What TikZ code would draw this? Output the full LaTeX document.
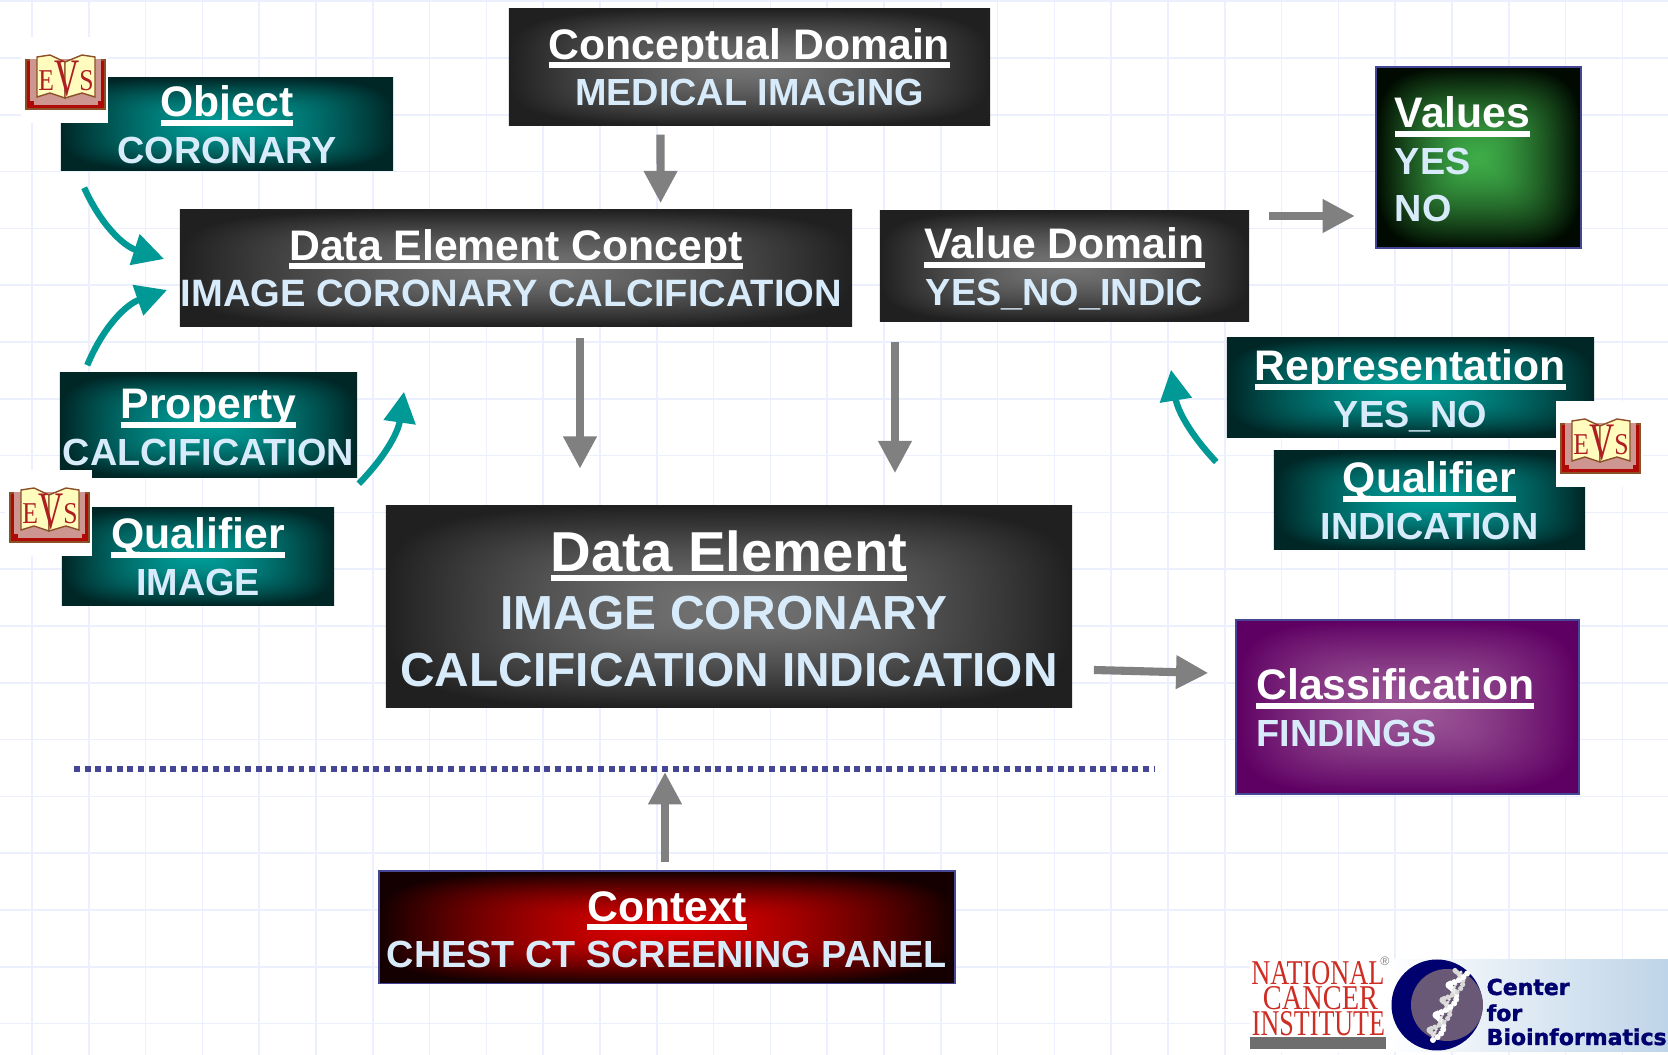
\documentclass[tikz,border=0pt]{standalone}
\usepackage{fontspec}
\setmainfont{Liberation Sans}
\newfontfamily\serifface{Liberation Serif}
\newfontfamily\heavyface{DejaVu Sans}[BoldFeatures={FakeBold=1.6}]
\usetikzlibrary{positioning, arrows.meta, calc}

% name, glow colour (r g b), edge minus glow (r g b)
\newcommand{\declareglow}[7]{%
  \pgfdeclarefunctionalshading{#1}{\pgfpoint{-50bp}{-50bp}}{\pgfpoint{50bp}{50bp}}{}{%
    abs 25 div dup mul dup mul exch abs 25 div dup mul dup mul add sqrt sqrt
    dup 1 gt {pop 1} if dup sqrt mul
    dup #5 mul #2 add exch dup #6 mul #3 add exch #7 mul #4 add}}
\declareglow{glowteal}{0}{0.61}{0.59}{0}{-0.46}{-0.44}
\declareglow{glowgray}{0.45}{0.45}{0.45}{-0.325}{-0.325}{-0.325}
\declareglow{glowgreen}{0.24}{0.67}{0.28}{-0.24}{-0.63}{-0.28}
\declareglow{glowred}{0.87}{0}{0}{-0.79}{0}{0}
\declareglow{glowpurple}{0.61}{0.34}{0.59}{-0.24}{-0.34}{-0.20}

\definecolor{subblue}{RGB}{215,235,250}
\definecolor{gridblue}{RGB}{236,239,253}
\definecolor{edgeblue}{RGB}{70,70,150}
\definecolor{tealtip}{RGB}{0,153,150}
\definecolor{graytip}{RGB}{128,128,128}
\definecolor{navy}{RGB}{0,0,110}
\definecolor{ncired}{RGB}{205,45,35}
\definecolor{bookbrown}{RGB}{140,80,40}
\definecolor{bookred}{RGB}{175,10,5}
\definecolor{bookpink}{RGB}{205,150,145}
\definecolor{bookpage}{RGB}{255,252,190}
\definecolor{bookink}{RGB}{175,30,35}
\definecolor{helixbg}{RGB}{105,88,118}

% underlined white heading, \ttldrop lowers the text in its box
\newsavebox{\ttlbox}
\def\ttldrop{0pt}
\newcommand{\ttl}[2][12.15]{\leavevmode\sbox{\ttlbox}{\color{white}\fontsize{#1}{#1}\selectfont #2}%
  \rule{0pt}{\dimexpr #1pt*735/1000+\ttldrop\relax}%
  \rlap{\color{white}\rule[-2.6pt]{\wd\ttlbox}{1.7pt}}\usebox{\ttlbox}}

\tikzset{
	x=0.01cm, y=-0.01cm, % one unit is one pixel of the slide
	cabox/.style={rectangle, inner sep=0pt, align=center, text=subblue,
		font=\bfseries\fontsize{10.75}{13.25}\selectfont, shade},
	tealbox/.style={cabox, shading=glowteal},
	graybox/.style={cabox, shading=glowgray},
	bigbox/.style={graybox, font=\bfseries\fontsize{13.6}{16.3}\selectfont},
	framed/.style={draw=edgeblue, line width=0.55pt},
	drop/.style={execute at begin node={\def\ttldrop{#1}}},
	gridline/.style={draw=gridblue, line width=0.5pt},
	flow/.style={draw=graytip, line width=2.3pt, -{Triangle[length=9.2pt,width=9pt]}, graytip},
	evslink/.style={draw=tealtip, line width=1.8pt, -{Triangle[length=8.8pt,width=8.8pt]}, tealtip},
	evsbook/.pic={
		\fill[white] (-5,-17) rectangle (82,69);
		\filldraw[fill=bookred, draw=bookbrown, line width=0.3pt] (0,6) rectangle (79,55);
		\fill[bookpink] (4,5) rectangle (75,47);
		\fill[bookpink] (8,41) rectangle (72,51);
		\filldraw[fill=bookpage, draw=bookbrown, line width=0.4pt]
			(11,3) -- (24,1) -- (39,8) -- (39,44) -- (24,39) -- (11,43) -- cycle;
		\filldraw[fill=bookpage, draw=bookbrown, line width=0.4pt]
			(39,8) -- (56,1) -- (69,3) -- (69,43) -- (56,39) -- (39,44) -- cycle;
		\node[inner sep=0pt, text=bookink] (-label) at (40,25)
			{\serifface\fontsize{8.6}{9}\selectfont\scalebox{.85}[1]{E}\raisebox{-1.5pt}{\scalebox{.66}[1]{\fontsize{15}{15}\selectfont V}}\scalebox{.85}[1]{S}};
	},
}

\begin{document}
\begin{tikzpicture}
	\useasboundingbox (0,0) rectangle (1668,1055);
	\fill[white] (0,0) rectangle (1668,1055);
	% slide background
	\foreach \k in {0,...,29} \draw[gridline] ({32+56.8*\k},0) -- ({32+56.8*\k},1055);
	\foreach \k in {0,...,18} \draw[gridline] (0,{1.2+56.8*\k}) -- (1668,{1.2+56.8*\k});

	% Nodes of the metadata model
	\node[graybox, minimum width=4.81cm, minimum height=1.16cm] (CD) at (749.5,67)
		{\ttl{Conceptual Domain}\\MEDICAL IMAGING};
	\node[tealbox, drop=.3pt, minimum width=3.32cm, minimum height=.92cm] (Obj) at (227,124)
		{\ttl{Object}\\CORONARY};
	\node[graybox, font=\bfseries\fontsize{10.85}{13.25}\selectfont, minimum width=6.72cm, minimum height=1.16cm] (DEC) at (516,268)
		{\ttl{Data Element Concept}\\IMAGE CORONARY CALCIFICATION\hspace*{2.6pt}};
	\node[graybox, drop=1.6pt, minimum width=3.69cm, minimum height=1.10cm] (VD) at (1064.5,266)
		{\ttl{Value Domain}\\YES\_NO\_INDIC};
	\node[cabox, shading=glowgreen, framed, drop=.8pt, minimum height=1.81cm, text width=1.67cm, inner xsep=.19cm, align=left] (Vals) at (1478.5,157.5)
		{\ttl{Values}\\YES\\NO};
	\node[tealbox, drop=1.8pt, minimum width=3.67cm, minimum height=.99cm] (Rep) at (1410.5,387.5)
		{\ttl{Representation}\\YES\_NO};
	\node[tealbox, drop=.4pt, minimum width=3.11cm, minimum height=.98cm] (QualI) at (1429.5,500)
		{\ttl{Qualifier}\\INDICATION};
	\node[tealbox, drop=.8pt, minimum width=2.97cm, minimum height=1.04cm] (Prop) at (208.5,425)
		{\ttl{Property}\\CALCIFICATION};
	\node[tealbox, drop=0pt, minimum width=2.72cm, minimum height=.97cm] (QualM) at (198,556.5)
		{\ttl{Qualifier}\\IMAGE};
	\node[bigbox, drop=1.2pt, minimum width=6.86cm, minimum height=2.01cm] (DE) at (729,606.5)
		{\ttl[16]{Data Element}\\IMAGE CORONARY\hbox{\kern3pt}\\CALCIFICATION INDICATION};
	\node[cabox, shading=glowpurple, framed, drop=.3pt, minimum height=1.73cm, text width=3.02cm, inner xsep=.2cm, align=left] (Cls) at (1407.5,707)
		{\ttl{Classification}\\FINDINGS};
	\node[cabox, shading=glowred, framed, drop=.9pt, minimum width=5.75cm, minimum height=1.12cm] (Ctx) at (667,927.5)
		{\ttl{Context}\\CHEST CT SCREENING PANEL};

	\coordinate (dotL) at (74,769);
	\coordinate (dotR) at (1154,769);
	\draw[edgeblue, line width=1.7pt, dash pattern=on 1.7pt off 1.34pt] (dotL) -- (dotR);

	% Edges between the parts
	\draw[flow] ($(CD.south)+(-89,9)$) -- ($(DEC.north)+(144.6,-6)$);
	\draw[flow] ($(DEC.south)+(64,11)$) -- ($(DE.north)+(-149,-36.5)$);
	\draw[flow] ($(VD.south)+(-169.5,20)$) -- ($(DE.north)+(166,-32)$);
	\draw[flow] ($(VD.east)+(19,-50)$) -- ($(Vals.west)+(-20,58.5)$);
	\draw[flow] ($(DE.east)+(21,63.5)$) -- ($(Cls.west)+(-27,-34)$);
	\draw[flow] ($(Ctx.north)+(-2,-8)$) -- ($(dotL)+(591,3)$);

	\draw[evslink] ($(Obj.south west)+(24,17)$) to[bend right=24] ($(DEC.west)+(-15,-9)$);
	\draw[evslink] ($(Prop.north west)+(28,-7)$) to[bend left=24] ($(DEC.west)+(-12,22)$);
	\draw[evslink] ($(Prop.south east)+(1,6)$) to[bend right=18] ($(DEC.south)+(-112,65)$);
	\draw[evslink] ($(QualI.west)+(-57,-38)$) to[bend left=17] ($(VD.south)+(106.5,48)$);

	% EVS books
	\pic (evsA) at (26,54) {evsbook};
	\pic (evsB) at (10,487) {evsbook};
	\pic (evsC) at (1561,418) {evsbook};

	% Logos
	\fill[white] (1250,960) rectangle (1387,1052);
	\shade[left color=white, middle color={rgb,255:red,238;green,242;blue,249}, right color={rgb,255:red,190;green,212;blue,232}] (1387,960) rectangle (1668,1052);
	\node[inner sep=0pt, text=ncired] (nciA) at (1318,973.5) {\resizebox{1.33cm}{.23cm}{\serifface NATIONAL}};
	\node[inner sep=0pt, text=ncired] (nciB) at (1320.5,998.5) {\resizebox{1.15cm}{.23cm}{\serifface CANCER}};
	\node[inner sep=0pt, text=ncired] (nciC) at (1318.5,1024) {\resizebox{1.33cm}{.24cm}{\serifface INSTITUTE}};
	\node[inner sep=0pt, text=black!50, font=\fontsize{3.5}{4}\selectfont] (nciR) at (1385,961) {\textregistered};
	\fill[black!57] (1250,1037) rectangle (1386,1049);
	\fill[navy] (1437,1005) circle (45.5);
	\fill[helixbg] (1447,1005) circle (36);
	\foreach \t in {0,...,26}{
		\fill[white] ({1433+1.08*\t+7*sin(\t*30)},{1037-2.5*\t+3*cos(\t*30)}) circle (3);
		\fill[white!85!black] ({1433+1.08*\t-7*sin(\t*30)},{1037-2.5*\t-3*cos(\t*30)}) circle (2.6);
		\fill[white!90!black] ({1433+1.08*\t},{1037-2.5*\t}) circle (1.6);
	}
	\node[anchor=base west, inner sep=0pt, text=navy, font=\heavyface\bfseries\fontsize{6.25}{7}\selectfont] (cbA) at (1486,995) {Center};
	\node[anchor=base west, inner sep=0pt, text=navy, font=\heavyface\bfseries\fontsize{6.25}{7}\selectfont] (cbB) at (1486,1021) {for};
	\node[anchor=base west, inner sep=0pt, text=navy, font=\heavyface\bfseries\fontsize{6.25}{7}\selectfont] (cbC) at (1486,1045) {Bioinformatics};
\end{tikzpicture}
\end{document}
